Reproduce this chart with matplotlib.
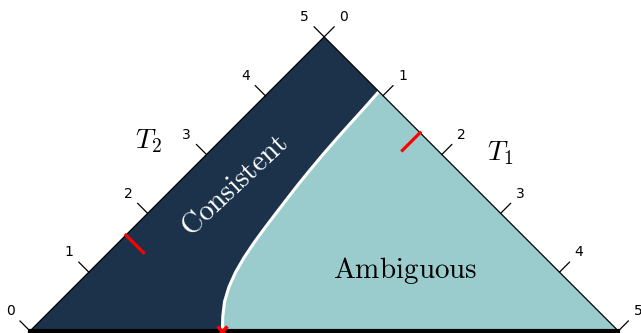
import numpy as np
import matplotlib
matplotlib.use("Agg")
import matplotlib.pyplot as plt

plt.rcParams['mathtext.fontset'] = 'cm'

# boundary between the two regions (x, y in triangle coords)
curve_x = [3.27, 3.277, 3.307, 3.382, 3.495, 3.64, 3.807, 3.99, 4.18, 4.372,
           4.567, 4.77, 4.98, 5.197, 5.42, 5.647, 5.93]
curve_y = [0.0, 0.25, 0.5, 0.75, 1.0, 1.25, 1.5, 1.75, 2.0, 2.25,
           2.5, 2.75, 3.0, 3.25, 3.5, 3.75, 4.07]

tick_vals = [0, 1, 2, 3, 4, 5]
t2_mark = 1.63   # red mark on T2 axis
t1_mark = 1.63   # red mark on T1 axis

dark = '#1c324b'
light = '#9bcccd'

k = 58.83  # px per unit
fig = plt.figure(figsize=(6.41, 3.33), dpi=100)
ax = fig.add_axes([0, 0, 1, 1])
ax.set_xlim(-30 / k, (641 - 30) / k)
ax.set_ylim(-2 / k, 331 / k)
ax.axis('off')

cx = np.array(curve_x)
cy = np.array(curve_y)

# regions
dark_x = np.concatenate([[0, 5], cx[::-1]])
dark_y = np.concatenate([[0, 5], cy[::-1]])
ax.fill(dark_x, dark_y, color=dark, lw=0)
light_x = np.concatenate([cx, [10]])
light_y = np.concatenate([cy, [0]])
ax.fill(light_x, light_y, color=light, lw=0)

ax.plot(cx, cy, color='white', lw=2.2, solid_capstyle='butt', solid_joinstyle='round')

# triangle edges
ax.plot([0, 5, 10], [0, 5, 0], color='black', lw=0.9)
ax.plot([0, 10], [0, 0], color='black', lw=3)

# ticks and labels
tl = 0.17
lo = 0.335
for v in tick_vals:
    # left edge (T2)
    px, py = v, v
    ax.plot([px, px - tl], [py, py + tl], color='black', lw=0.9)
    ax.text(px - lo, py + lo, str(v), ha='center', va='center', fontsize=10)
    # right edge (T1)
    px, py = 5 + v, 5 - v
    ax.plot([px, px + tl], [py, py + tl], color='black', lw=0.9)
    ax.text(px + lo, py + lo, str(v), ha='center', va='center', fontsize=10)

# red marks
ml = 0.3
ax.plot([t2_mark, t2_mark + ml], [t2_mark, t2_mark - ml], color='red', lw=2.3)
ax.plot([5 + t1_mark, 5 + t1_mark - ml], [5 - t1_mark, 5 - t1_mark - ml], color='red', lw=2.3)
ax.plot([cx[0]], [0], marker='x', color='red', ms=7, mew=2.5, clip_on=False)

# labels
ax.text(2.01, 3.23, r'$T_2$', ha='center', va='center', fontsize=20)
ax.text(7.99, 3.03, r'$T_1$', ha='center', va='center', fontsize=20)
ax.text(3.47, 2.47, r'$\mathrm{Consistent}$', color='white', fontsize=21,
        rotation=43, rotation_mode='anchor', ha='center', va='center')
ax.text(6.37, 0.9, r'$\mathrm{Ambiguous}$', color='black', fontsize=21,
        ha='center', va='baseline')

fig.savefig('out.png', dpi=100)
